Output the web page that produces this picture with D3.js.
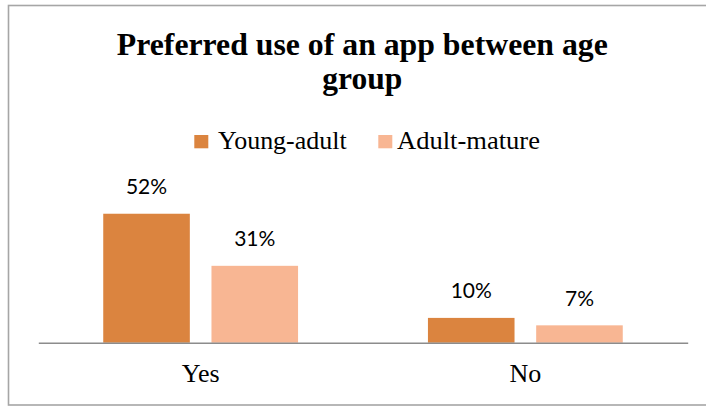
<!DOCTYPE html>
<html>
<head>
<meta charset="utf-8">
<script src="https://cdn.jsdelivr.net/npm/d3@7/dist/d3.min.js"></script>
<style>
  html, body { margin: 0; padding: 0; background: #ffffff; overflow: hidden; }
  svg { display: block; }
</style>
</head>
<body>
<svg id="chart" width="706" height="407"></svg>
<script>
// Chart data
const titleLines = ["Preferred use of an app between age", "group"];
const categories = ["Yes", "No"];
const seriesNames = ["Young-adult", "Adult-mature"];
const youngAdult = [52, 10];
const adultMature = [31, 7];
const seriesColors = ["#DB843F", "#F8B693"];

const seriesValues = [youngAdult, adultMature];
const rows = categories.map((c, i) => ({
  category: c,
  values: seriesNames.map((s, j) => ({ series: s, value: seriesValues[j][i], color: seriesColors[j] }))
}));

const svg = d3.select("#chart");

// Outer chart frame (right edge runs past the canvas)
svg.append("rect")
  .attr("x", 8.5).attr("y", 5.5)
  .attr("width", 712).attr("height", 399.5)
  .attr("fill", "#ffffff")
  .attr("stroke", "#a6a6a6")
  .attr("stroke-width", 1.6);

// Scales
const plotLeft = 38.3, plotRight = 687.7, baseY = 342.7, topY = 193.9;
const x0 = d3.scaleBand().domain(categories).range([plotLeft, plotRight])
  .paddingInner(0.4).paddingOuter(0.2);
const x1 = d3.scaleBand().domain(seriesNames).range([0, x0.bandwidth()])
  .paddingInner(0.2).paddingOuter(0);
const y = d3.scaleLinear().domain([0, 60]).range([baseY, topY]);

// Title
const title = svg.append("g").attr("class", "title");
const titleWidths = [491, 80];
titleLines.forEach((t, i) => {
  title.append("text")
    .attr("x", 362.3)
    .attr("y", 55 + i * 34)
    .attr("text-anchor", "middle")
    .attr("font-family", "'Liberation Serif', 'Times New Roman', serif")
    .attr("font-weight", "bold")
    .attr("font-size", 31)
    .attr("fill", "#000000")
    .attr("textLength", titleWidths[i])
    .attr("lengthAdjust", "spacingAndGlyphs")
    .text(t);
});

// Legend
const legendItems = [
  { name: seriesNames[0], color: seriesColors[0], sx: 194.3, tx: 218, w: 128.7 },
  { name: seriesNames[1], color: seriesColors[1], sx: 378.3, tx: 397, w: 143 }
];
const legend = svg.append("g").attr("class", "legend");
legendItems.forEach(d => {
  legend.append("rect")
    .attr("x", d.sx).attr("y", 135)
    .attr("width", 14).attr("height", 13.3)
    .attr("fill", d.color);
  legend.append("text")
    .attr("x", d.tx).attr("y", 149.4)
    .attr("font-family", "'Liberation Serif', 'Times New Roman', serif")
    .attr("font-size", 25)
    .attr("fill", "#000000")
    .attr("textLength", d.w)
    .attr("lengthAdjust", "spacingAndGlyphs")
    .text(d.name);
});

// Bars
const groups = svg.append("g").attr("class", "bars")
  .selectAll("g").data(rows).join("g")
  .attr("transform", d => `translate(${x0(d.category)},0)`);

groups.selectAll("rect").data(d => d.values).join("rect")
  .attr("x", d => x1(d.series))
  .attr("y", d => y(d.value))
  .attr("width", x1.bandwidth())
  .attr("height", d => y(0) - y(d.value))
  .attr("fill", d => d.color);

// Value labels
groups.selectAll("text").data(d => d.values).join("text")
  .attr("x", d => x1(d.series) + x1.bandwidth() / 2)
  .attr("y", d => y(d.value) - 19.5)
  .attr("text-anchor", "middle")
  .attr("font-family", "Lato, 'Open Sans', sans-serif")
  .attr("font-size", 21)
  .attr("fill", "#000000")
  .text(d => d.value + "%");

// Category axis
const axis = svg.append("g")
  .attr("transform", `translate(0,${baseY})`)
  .call(d3.axisBottom(x0).tickSize(0).tickSizeOuter(0));
axis.select(".domain").attr("stroke", "#8c8c8c").attr("stroke-width", 1.6);
axis.selectAll(".tick text")
  .attr("y", 39)
  .attr("dy", 0)
  .attr("font-family", "'Liberation Serif', 'Times New Roman', serif")
  .attr("font-size", 26)
  .attr("fill", "#000000");
</script>
</body>
</html>
